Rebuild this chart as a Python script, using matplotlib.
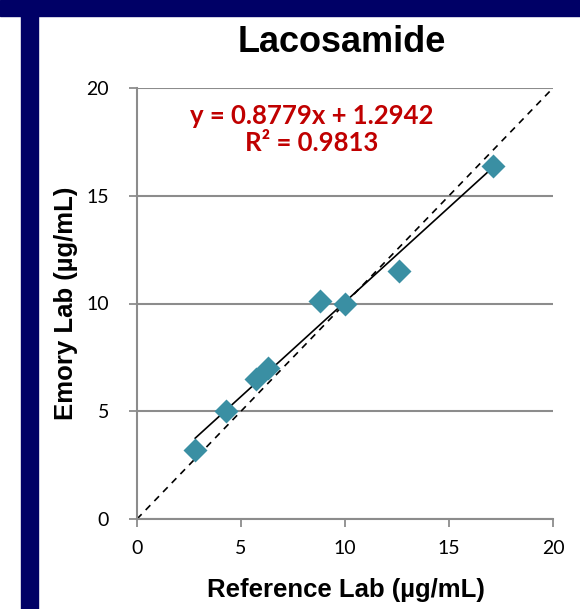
import numpy as np
import matplotlib.pyplot as plt
from matplotlib.patches import Rectangle

# Reference lab vs Emory lab results (ug/mL)
ref_lab = [2.8, 4.3, 5.7, 6.3, 8.8, 10.0, 12.6, 17.1]
emory_lab = [3.2, 5.0, 6.5, 7.0, 10.1, 10.0, 11.5, 16.4]
ticks = [0, 5, 10, 15, 20]
slope = 0.8779
intercept = 1.2942
r2 = 0.9813

fig = plt.figure(figsize=(5.8, 6.09), dpi=100)

# navy slide frame
navy = '#000066'
fig.patches.append(Rectangle((0, 1 - 16 / 609), 1, 16 / 609, transform=fig.transFigure, color=navy, zorder=0))
fig.patches.append(Rectangle((21 / 580, 0), 17 / 580, 1 - 16 / 609, transform=fig.transFigure, color=navy, zorder=0))

ax = fig.add_axes([137 / 580, 1 - 519 / 609, 416 / 580, 431 / 609])

# identity line
ax.plot([0, 20], [0, 20], 'k--', lw=1.2, dashes=(4, 3.5), zorder=2)

# trend line
xs = np.array([min(ref_lab), max(ref_lab)])
ax.plot(xs, slope * xs + intercept, 'k-', lw=1.2, zorder=2)

ax.plot(ref_lab, emory_lab, 'D', color='#3A8FA3', ms=12, mec='none', zorder=3)

ax.set_xlim(0, 20)
ax.set_ylim(0, 20)
ax.set_xticks(ticks)
ax.set_yticks(ticks)
ax.yaxis.grid(True, color='#8c8c8c', lw=1.5)
ax.set_axisbelow(True)
for s in ['top', 'right']:
    ax.spines[s].set_visible(False)
for s in ['left', 'bottom']:
    ax.spines[s].set_color('#8c8c8c')
    ax.spines[s].set_linewidth(1.5)
ax.tick_params(axis='x', direction='out', length=6, width=1.3, color='#8c8c8c', pad=9, labelsize=14)
ax.tick_params(axis='y', direction='out', length=6, width=1.3, color='#8c8c8c', pad=14, labelsize=14)
for lab in ax.get_xticklabels() + ax.get_yticklabels():
    lab.set_family('Lato')

ax.text(0.42, 0.935, 'y = %.4fx + %.4f' % (slope, intercept), transform=ax.transAxes,
        ha='center', va='center', color='#C00000', fontsize=18.5, fontweight='bold', family='Lato')
ax.text(0.42, 0.872, 'R² = %.4f' % r2, transform=ax.transAxes,
        ha='center', va='center', color='#C00000', fontsize=18.5, fontweight='bold', family='Lato')

fig.text(342 / 580, 1 - 42 / 609, 'Lacosamide', ha='center', va='center',
         fontsize=26, fontweight='bold', family='Liberation Sans')
fig.text(346 / 580, 1 - 590 / 609, 'Reference Lab (µg/mL)', ha='center', va='center',
         fontsize=18.5, fontweight='bold', family='Liberation Sans')
fig.text(66 / 580, 1 - 303 / 609, 'Emory Lab (µg/mL)', ha='center', va='center', rotation=90,
         fontsize=18.5, fontweight='bold', family='Liberation Sans')

plt.savefig('out.png', dpi=100)
